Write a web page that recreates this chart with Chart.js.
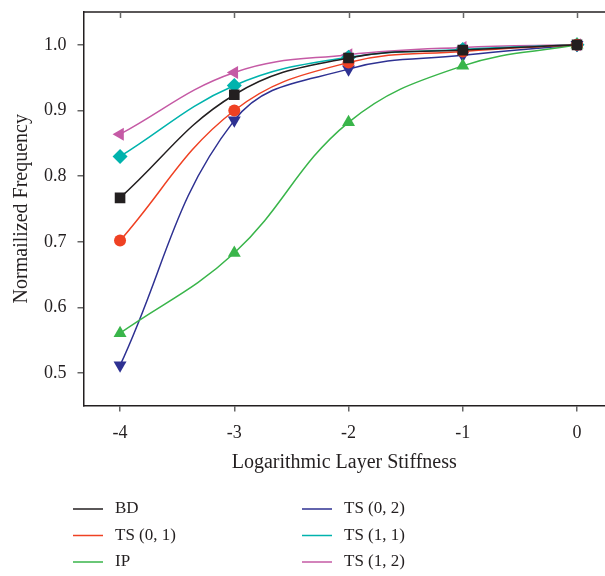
<!DOCTYPE html>
<html>
<head>
<meta charset="utf-8">
<script src="https://cdn.jsdelivr.net/npm/chart.js@4.4.0/dist/chart.umd.min.js"></script>
<style>
  html, body { margin: 0; padding: 0; background: #fff; }
  #wrap { width: 605px; height: 576px; }
</style>
</head>
<body>
<div id="wrap"><canvas id="c" width="605" height="576"></canvas></div>
<script>
// x positions (log of layer stiffness)
const stiffness = [-4, -3, -2, -1, 0];
const xTicks = [-4, -3, -2, -1, 0];
const yTicks = [0.5, 0.6, 0.7, 0.8, 0.9, 1.0];

// normalized frequency per case
const bd   = [0.767, 0.924, 0.980, 0.992, 1.0];
const ts01 = [0.702, 0.900, 0.973, 0.990, 1.0];
const ip   = [0.561, 0.683, 0.882, 0.968, 1.0];
const ts02 = [0.512, 0.885, 0.963, 0.984, 1.0];
const ts11 = [0.830, 0.938, 0.981, 0.993, 1.0];
const ts12 = [0.864, 0.958, 0.985, 0.996, 1.0];

const labels = ['BD', 'TS (0, 1)', 'IP', 'TS (0, 2)', 'TS (1, 1)', 'TS (1, 2)'];
const colors = ['#231f20', '#ef4123', '#39b54a', '#2e3192', '#00b3ad', '#c55aa5'];
const series = [bd, ts01, ip, ts02, ts11, ts12];
const shapes = ['rect', 'circle', 'triangle', 'triangle', 'rectRot', 'triangle'];
const rotations = [0, 0, 0, 180, 0, 270];
const radii = [7.5, 6, 7.5, 7.5, 7.5, 7.5];

const FONT = '"Liberation Serif", "DejaVu Serif", serif';
const AXIS = '#231f20';

const datasets = series.map((vals, i) => ({
  label: labels[i],
  data: vals.map((v, j) => ({ x: stiffness[j], y: v })),
  borderColor: colors[i],
  backgroundColor: colors[i],
  borderWidth: 1.5,
  showLine: true,
  tension: 0.4,
  pointStyle: shapes[i],
  rotation: rotations[i],
  pointRadius: radii[i],
  pointBorderWidth: 0,
  order: i
}));

// top spine with inward ticks + two-column legend below
const extras = {
  id: 'extras',
  afterDraw(chart) {
    const ctx = chart.ctx;
    const a = chart.chartArea;
    const xs = chart.scales.x;
    ctx.save();
    ctx.strokeStyle = AXIS;
    ctx.lineWidth = 1.5;
    ctx.beginPath();
    ctx.moveTo(a.left, a.top);
    ctx.lineTo(a.right, a.top);
    ctx.stroke();
    ctx.strokeStyle = '#666';
    xTicks.forEach(t => {
      const px = Math.round(xs.getPixelForValue(t)) + 0.5;
      ctx.beginPath();
      ctx.moveTo(px, a.top);
      ctx.lineTo(px, a.top + 6);
      ctx.stroke();
    });

    ctx.font = '17px ' + FONT;
    ctx.textBaseline = 'middle';
    ctx.fillStyle = AXIS;
    chart.data.datasets.forEach((ds, i) => {
      const col = i < 3 ? 0 : 1;
      const row = i % 3;
      const lx = col === 0 ? 73 : 302;
      const ly = 509 + row * 26.5;
      ctx.strokeStyle = ds.borderColor;
      ctx.lineWidth = 1.5;
      ctx.beginPath();
      ctx.moveTo(lx, ly);
      ctx.lineTo(lx + 30, ly);
      ctx.stroke();
      ctx.fillText(ds.label, lx + 42, ly);
    });
    ctx.restore();
  }
};

new Chart(document.getElementById('c'), {
  type: 'scatter',
  data: { datasets },
  plugins: [extras],
  options: {
    responsive: false,
    animation: false,
    layout: { autoPadding: false, padding: { top: 12, right: 0, bottom: 101, left: 10 } },
    plugins: {
      legend: { display: false },
      tooltip: { enabled: false }
    },
    scales: {
      x: {
        type: 'linear',
        min: -4.32,
        max: 0.245,
        afterBuildTicks: s => { s.ticks = xTicks.map(v => ({ value: v })); },
        afterFit: s => { s.paddingLeft = 0; s.paddingRight = 0; },
        border: { display: true, color: AXIS, width: 1.5 },
        grid: { drawOnChartArea: false, drawTicks: true, tickLength: 6, color: '#666', lineWidth: 1.5 },
        ticks: {
          color: AXIS,
          font: { family: FONT, size: 18 },
          padding: 11,
          callback: v => String(v)
        },
        title: {
          display: true,
          text: 'Logarithmic Layer Stiffness',
          color: AXIS,
          font: { family: FONT, size: 20 },
          padding: { top: -4, bottom: 0 }
        }
      },
      y: {
        type: 'linear',
        min: 0.451,
        max: 1.05,
        afterBuildTicks: s => { s.ticks = yTicks.map(v => ({ value: v })); },
        afterFit: s => { s.paddingTop = 0; s.paddingBottom = 0; },
        border: { display: true, color: AXIS, width: 1.5 },
        grid: { drawOnChartArea: false, drawTicks: true, tickLength: 6, color: '#666', lineWidth: 1.5 },
        ticks: {
          color: AXIS,
          font: { family: FONT, size: 18 },
          padding: 11,
          callback: v => v.toFixed(1)
        },
        title: {
          display: true,
          text: 'Normailized Frequency',
          color: AXIS,
          font: { family: FONT, size: 20 },
          padding: { top: 0, bottom: -1 }
        }
      }
    }
  }
});
</script>
</body>
</html>
